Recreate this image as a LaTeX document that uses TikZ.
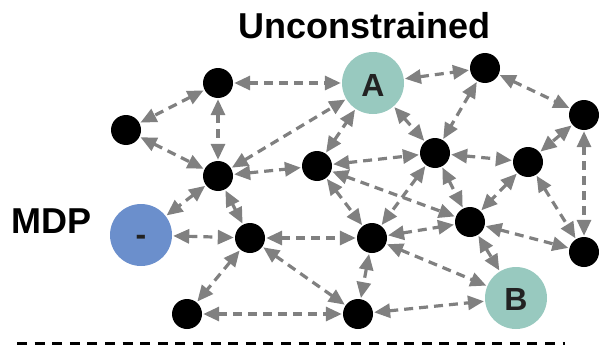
\documentclass[tikz,border=0pt]{standalone}
\usepackage{fontspec}
\setmainfont{Liberation Sans}
\usetikzlibrary{arrows.meta}
\definecolor{stateteal}{HTML}{98C9BF}
\definecolor{stateblue}{HTML}{6B8FCC}
\definecolor{edgegray}{HTML}{808080}
\definecolor{ink}{HTML}{222222}

\begin{document}
\begin{tikzpicture}[x=1pt,y=-1pt,
  statedot/.style={circle,fill=black,minimum size=30pt,inner sep=0pt},
  goalstate/.style={circle,fill=stateteal,minimum size=62pt,inner sep=0pt},
  startstate/.style={circle,fill=stateblue,minimum size=62pt,inner sep=0pt},
  link/.style={edgegray,line width=3.2pt,dash pattern=on 9pt off 6pt,
    {Triangle[length=16pt,width=14pt]}-{Triangle[length=16pt,width=14pt]},
    shorten <=1pt,shorten >=1pt},
  heading/.style={font=\bfseries\fontsize{36}{40}\selectfont,anchor=base,inner sep=0pt},
  letter/.style={font=\bfseries\fontsize{32}{36}\selectfont,text=ink,anchor=base,inner sep=0pt}
]
\useasboundingbox (0,0) rectangle (599,345);

% headings
\node[heading] (title) at (364.5,39) {Unconstrained};
\node[heading] (mdp) at (51.5,233) {MDP};

% states
\node[statedot] (n1) at (218,83) {};
\node[statedot] (n2) at (126,130) {};
\node[statedot] (n3) at (218,176) {};
\node[goalstate] (A) at (373,83) {};
\node[letter] (Alabel) at (373,96) {A};
\node[statedot] (n4) at (485,68) {};
\node[statedot] (n5) at (584,115) {};
\node[statedot] (n6) at (317,166) {};
\node[statedot] (n7) at (435,153) {};
\node[statedot] (n8) at (528,162) {};
\node[startstate] (S) at (141,235) {};
\node[letter] (Slabel) at (141,245.5) {-};
\node[statedot] (n9) at (250,238) {};
\node[statedot] (n10) at (372,238) {};
\node[statedot] (n11) at (470,222) {};
\node[statedot] (n12) at (584,252) {};
\node[goalstate] (B) at (516,298) {};
\node[letter] (Blabel) at (516,310) {B};
\node[statedot] (n13) at (187,314) {};
\node[statedot] (n14) at (358,314) {};

% transitions
\draw[link] (n1) -- (n2);
\draw[link] (n1) -- (n3);
\draw[link] (n2) -- (n3);
\draw[link] (n1) -- (A);
\draw[link] (n3) -- (A);
\draw[link] (n6) -- (A);
\draw[link] (n3) -- (n6);
\draw[link] (A) -- (n4);
\draw[link] (A) -- (n7);
\draw[link] (n4) -- (n7);
\draw[link] (n4) -- (n5);
\draw[link] (n5) -- (n8);
\draw[link] (n5) -- (n12);
\draw[link] (n7) -- (n8);
\draw[link] (n6) -- (n7);
\draw[link] (n7) -- (n10);
\draw[link] (n7) -- (n11);
\draw[link] (n8) -- (n11);
\draw[link] (n8) -- (n12);
\draw[link] (n11) -- (n12);
\draw[link] (n11) -- (B);
\draw[link] (n6) -- (n11);
\draw[link] (n6) -- (n10);
\draw[link] (n3) -- (n9);
\draw[link] (n3) -- (S);
\draw[link] (S) -- (n9);
\draw[link] (n9) -- (n10);
\draw[link] (n9) -- (n13);
\draw[link] (n9) -- (n14);
\draw[link] (n13) -- (n14);
\draw[link] (n10) -- (n14);
\draw[link] (n14) -- (B);
\draw[link] (n10) -- (n11);
\draw[link] (n10) -- (B);

% separator rule
\coordinate (ruleL) at (17,343);
\coordinate (ruleR) at (565,343);
\draw[black,line width=3pt,dash pattern=on 10pt off 7.6pt] (ruleL) -- (ruleR);
\end{tikzpicture}
\end{document}
